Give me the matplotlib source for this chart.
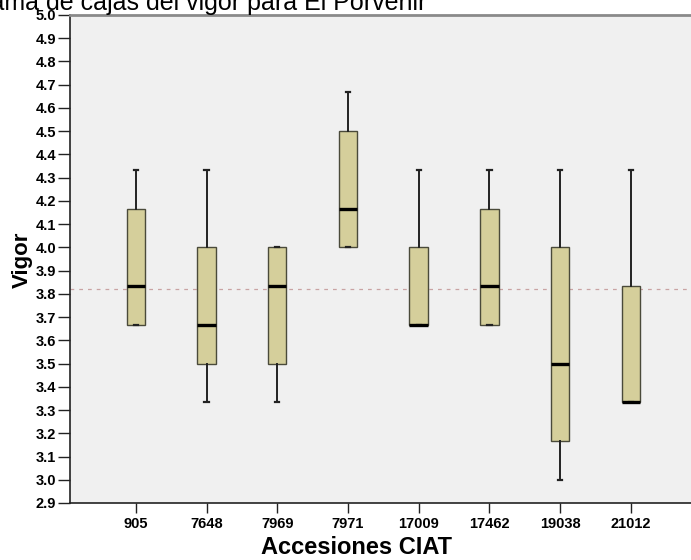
import matplotlib
matplotlib.use("Agg")
import matplotlib.pyplot as plt

plt.rcParams['font.family'] = ['Liberation Sans', 'DejaVu Sans']

# five-number summaries of vigor per CIAT accession
accessions = ['905', '7648', '7969', '7971', '17009', '17462', '19038', '21012']
whisker_high = [4.333, 4.333, 4.0, 4.667, 4.333, 4.333, 4.333, 4.333]
q3 = [4.167, 4.0, 4.0, 4.5, 4.0, 4.167, 4.0, 3.833]
median = [3.833, 3.667, 3.833, 4.167, 3.667, 3.833, 3.5, 3.333]
q1 = [3.667, 3.5, 3.5, 4.0, 3.667, 3.667, 3.167, 3.333]
whisker_low = [3.667, 3.333, 3.333, 4.0, 3.667, 3.667, 3.0, 3.333]
overall_mean = 3.82
yticks = [2.9 + 0.1 * i for i in range(22)]

stats = []
for name, lo, a, m, b, hi in zip(accessions, whisker_low, q1, median, q3, whisker_high):
    stats.append(dict(label=name, whislo=lo, q1=a, med=m, q3=b, whishi=hi, fliers=[]))

fig = plt.figure(figsize=(6.91, 5.6), dpi=100)
ax = fig.add_axes([70 / 691, 1 - 503 / 560, 1 - 70 / 691, (503 - 15) / 560])
ax.set_facecolor('#f0f0f0')

ax.axhline(overall_mean, color='#c9a3a3', lw=0.9, ls=(0, (3, 4)), zorder=1)

ax.bxp(stats, positions=range(len(accessions)), widths=0.26, patch_artist=True,
       showfliers=False, capwidths=0.06,
       boxprops=dict(facecolor='#d5cf9b', edgecolor='#4a4a3a', linewidth=1.0),
       medianprops=dict(color='black', linewidth=2.4),
       whiskerprops=dict(color='#222222', linewidth=1.4),
       capprops=dict(color='#222222', linewidth=1.6), zorder=3)

ax.set_xlim(-0.93, 7.85)
ax.set_ylim(2.9, 5.0)
ax.set_yticks(yticks)
ax.set_yticklabels([f'{v:.1f}' for v in yticks], fontsize=10.5, fontweight='bold')
ax.set_xticks(range(len(accessions)))
ax.set_xticklabels(accessions, fontsize=10.5, fontweight='bold')
ax.tick_params(axis='y', length=9, width=1.0, pad=1, color='#222222')
ax.tick_params(axis='x', length=7, width=1.0, pad=3, color='#222222')

for side in ['left', 'bottom']:
    ax.spines[side].set_color('#222222')
    ax.spines[side].set_linewidth(1.2)
ax.spines['top'].set_color('#8a8a8a')
ax.spines['top'].set_linewidth(2.0)
ax.spines['right'].set_visible(False)

fig.text(22 / 691, 1 - 260 / 560, 'Vigor', rotation=90, ha='center', va='center',
         fontsize=16, fontweight='bold')
fig.text(357 / 691, 1 - 548 / 560, 'Accesiones CIAT', ha='center', va='center',
         fontsize=17, fontweight='bold')
fig.text(426 / 691, 1 - 10 / 560, 'Diagrama de cajas del vigor para El Porvenir',
         ha='right', va='baseline', fontsize=18)

fig.savefig('out.png', dpi=100)
